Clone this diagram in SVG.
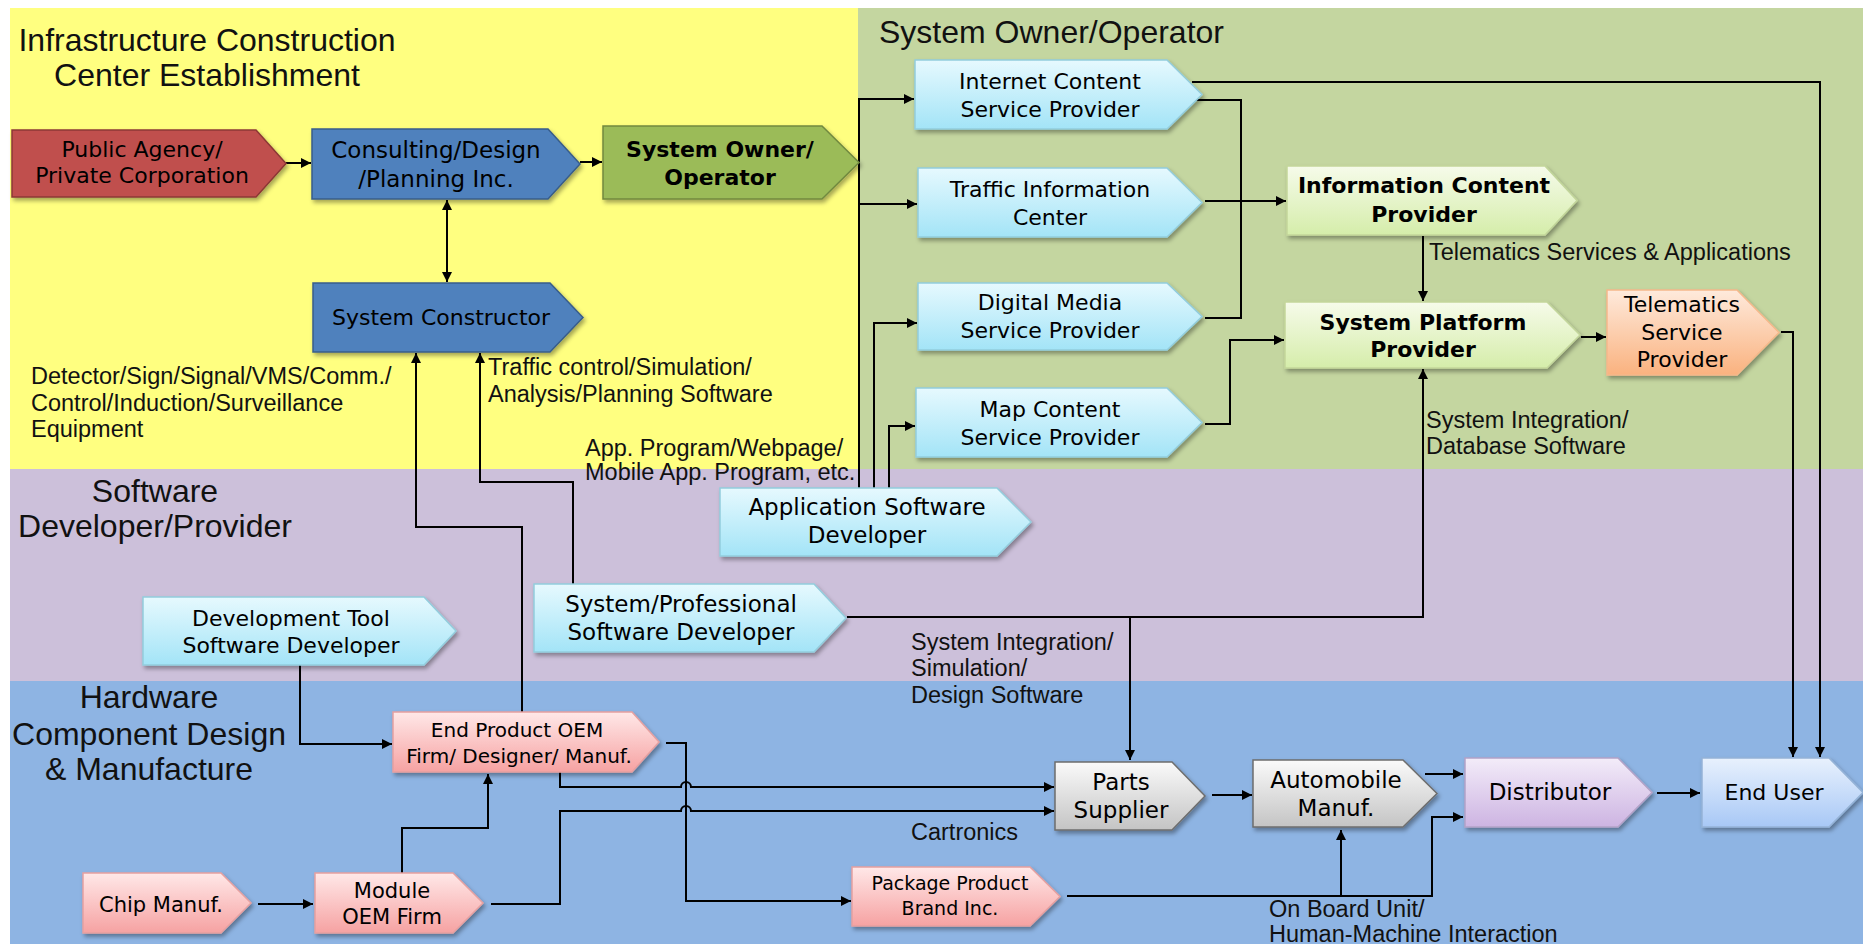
<svg xmlns="http://www.w3.org/2000/svg" width="1863" height="944" viewBox="0 0 1863 944">
<defs>
<style>
.nt{font-family:"DejaVu Sans",sans-serif;font-size:22px;text-anchor:middle;fill:#000}
.b{font-weight:bold}
.lbl{font-family:"Liberation Sans",Arial,sans-serif;font-size:23.5px;fill:#111}
.ttl{font-family:"Liberation Sans",Arial,sans-serif;font-size:32px;fill:#111}
.c path{fill:none;stroke:#000;stroke-width:2}
.sh{filter:url(#sh)}
.red{fill:#C0504D;stroke:#8C3836;stroke-width:1.5}
.blue{fill:#4F81BD;stroke:#385D8A;stroke-width:1.5}
.grn{fill:#9BBB59;stroke:#71893F;stroke-width:1.5}
.cy{fill:url(#gCy);stroke:#93CDDD;stroke-width:1.5}
.lg{fill:url(#gLg);stroke:#C3D69B;stroke-width:1.5}
.or{fill:url(#gOr);stroke:#F5B88A;stroke-width:1.5}
.pk{fill:url(#gPk);stroke:#E6A0A0;stroke-width:1.5}
.gy{fill:url(#gGy);stroke:#6E6E6E;stroke-width:1.5}
.lv{fill:url(#gLv);stroke:#B3A2C7;stroke-width:1.5}
.lb{fill:url(#gLb);stroke:#95B3D7;stroke-width:1.5}
</style>
<filter id="sh" x="-10%" y="-15%" width="125%" height="145%"><feDropShadow dx="2" dy="3" stdDeviation="2" flood-color="#000" flood-opacity="0.35"/></filter>
<linearGradient id="gCy" x1="0" y1="0" x2="0" y2="1"><stop offset="0" stop-color="#E6F9FE"/><stop offset="1" stop-color="#A3E4F7"/></linearGradient>
<linearGradient id="gLg" x1="0" y1="0" x2="0" y2="1"><stop offset="0" stop-color="#F6FBEA"/><stop offset="1" stop-color="#D5EDAA"/></linearGradient>
<linearGradient id="gOr" x1="0" y1="0" x2="0" y2="1"><stop offset="0" stop-color="#FEEADC"/><stop offset="1" stop-color="#FAB27F"/></linearGradient>
<linearGradient id="gPk" x1="0" y1="0" x2="0" y2="1"><stop offset="0" stop-color="#FFE8E8"/><stop offset="1" stop-color="#F6A2A2"/></linearGradient>
<linearGradient id="gGy" x1="0" y1="0" x2="0" y2="1"><stop offset="0" stop-color="#FAFAFA"/><stop offset="1" stop-color="#C4C4C4"/></linearGradient>
<linearGradient id="gLv" x1="0" y1="0" x2="0" y2="1"><stop offset="0" stop-color="#F3ECF9"/><stop offset="1" stop-color="#CDB4E2"/></linearGradient>
<linearGradient id="gLb" x1="0" y1="0" x2="0" y2="1"><stop offset="0" stop-color="#E8F1FD"/><stop offset="1" stop-color="#A8C8F6"/></linearGradient>
<marker id="ah" viewBox="0 0 10 10" refX="10" refY="5" markerWidth="11" markerHeight="10" markerUnits="userSpaceOnUse" orient="auto-start-reverse"><path d="M0,0 L10,5 L0,10 z" fill="#000"/></marker>
</defs>

<g id="background">
<rect x="0" y="0" width="1863" height="944" fill="#FFFFFF"/>
<rect x="10" y="8" width="848" height="461" fill="#FFFF80"/>
<rect x="858" y="8" width="1005" height="461" fill="#C4D6A0"/>
<rect x="10" y="469" width="1853" height="212" fill="#CCC0DA"/>
<rect x="10" y="681" width="1853" height="263" fill="#8EB4E3"/>
</g>

<g id="titles">
<text class="ttl" x="207" y="51" text-anchor="middle">Infrastructure Construction</text>
<text class="ttl" x="207" y="86" text-anchor="middle">Center Establishment</text>
<text class="ttl" x="879" y="43">System Owner/Operator</text>
<text class="ttl" x="155" y="502" text-anchor="middle">Software</text>
<text class="ttl" x="155" y="537" text-anchor="middle">Developer/Provider</text>
<text class="ttl" x="149" y="708" text-anchor="middle">Hardware</text>
<text class="ttl" x="149" y="745" text-anchor="middle">Component Design</text>
<text class="ttl" x="149" y="780" text-anchor="middle">&amp; Manufacture</text>
</g>

<g id="connectors" class="c">
<path d="M286,163 H311" marker-end="url(#ah)"/>
<path d="M580,162 H602" marker-end="url(#ah)"/>
<path d="M447,200 V282" marker-start="url(#ah)" marker-end="url(#ah)"/>
<path d="M859,488 V99 H914" marker-end="url(#ah)"/>
<path d="M859,204 H917" marker-end="url(#ah)"/>
<path d="M874,488 V323 H917" marker-end="url(#ah)"/>
<path d="M889,488 V426 H915" marker-end="url(#ah)"/>
<path d="M1192,82 H1820 V757" marker-end="url(#ah)"/>
<path d="M1195,100 H1241 V318 H1205"/>
<path d="M1205,201 H1286" marker-end="url(#ah)"/>
<path d="M1205,424 H1230 V340 H1284" marker-end="url(#ah)"/>
<path d="M1423,236 V301" marker-end="url(#ah)"/>
<path d="M1581,337 H1606" marker-end="url(#ah)"/>
<path d="M1781,332 H1793 V757" marker-end="url(#ah)"/>
<path d="M847,617 H1423 V369" marker-end="url(#ah)"/>
<path d="M1130,617 V760" marker-end="url(#ah)"/>
<path d="M573,584 V482 H480 V353" marker-end="url(#ah)"/>
<path d="M522,712 V527 H416 V353" marker-end="url(#ah)"/>
<path d="M300,665 V744 H392" marker-end="url(#ah)"/>
<path d="M666,743 H686 V901 H851" marker-end="url(#ah)"/>
<path d="M560,772 V787 H681 A5,5 0 0 1 691,787 H1054" marker-end="url(#ah)"/>
<path d="M491,904 H560 V811 H681 A5,5 0 0 1 691,811 H1054" marker-end="url(#ah)"/>
<path d="M402,873 V828 H488 V774" marker-end="url(#ah)"/>
<path d="M258,904 H313" marker-end="url(#ah)"/>
<path d="M1212,795 H1252" marker-end="url(#ah)"/>
<path d="M1425,774 H1463" marker-end="url(#ah)"/>
<path d="M1067,896 H1432 V817 H1463" marker-end="url(#ah)"/>
<path d="M1341,896 V830" marker-end="url(#ah)"/>
<path d="M1657,793 H1700" marker-end="url(#ah)"/>
</g>

<g id="labels">
<text class="lbl" x="31" y="384">Detector/Sign/Signal/VMS/Comm./</text>
<text class="lbl" x="31" y="411">Control/Induction/Surveillance</text>
<text class="lbl" x="31" y="437">Equipment</text>
<text class="lbl" x="488" y="375">Traffic control/Simulation/</text>
<text class="lbl" x="488" y="402">Analysis/Planning Software</text>
<text class="lbl" x="585" y="456">App. Program/Webpage/</text>
<text class="lbl" x="585" y="480">Mobile App. Program, etc.</text>
<text class="lbl" x="1429" y="260">Telematics Services &amp; Applications</text>
<text class="lbl" x="1426" y="428">System Integration/</text>
<text class="lbl" x="1426" y="454">Database Software</text>
<text class="lbl" x="911" y="650">System Integration/</text>
<text class="lbl" x="911" y="676">Simulation/</text>
<text class="lbl" x="911" y="703">Design Software</text>
<text class="lbl" x="911" y="840">Cartronics</text>
<text class="lbl" x="1269" y="917">On Board Unit/</text>
<text class="lbl" x="1269" y="942">Human-Machine Interaction</text>
</g>

<g id="n-public"><path class="red sh" d="M12,130 H256 L286,163.5 L256,197 H12 Z"/>
<text class="nt" x="142" y="157">Public Agency/</text><text class="nt" x="142" y="183">Private Corporation</text></g>

<g id="n-consulting"><path class="blue sh" d="M312,129 H548 L580,164 L548,199 H312 Z"/>
<text class="nt" x="436" y="158" style="font-size:23px">Consulting/Design</text><text class="nt" x="436" y="187" style="font-size:23px">/Planning Inc.</text></g>

<g id="n-owner"><path class="grn sh" d="M603,126 H822 L859,162.5 L822,199 H603 Z"/>
<text class="nt b" x="720" y="157">System Owner/</text><text class="nt b" x="720" y="185">Operator</text></g>

<g id="n-constructor"><path class="blue sh" d="M313,283 H550 L583,317.5 L550,352 H313 Z"/>
<text class="nt" x="441" y="325">System Constructor</text></g>

<g id="n-icsp"><path class="cy sh" d="M915,60 H1167 L1202,94.5 L1167,129 H915 Z"/>
<text class="nt" x="1050" y="89">Internet Content</text><text class="nt" x="1050" y="117">Service Provider</text></g>

<g id="n-traffic"><path class="cy sh" d="M918,168 H1167 L1202,202.5 L1167,237 H918 Z"/>
<text class="nt" x="1050" y="197">Traffic Information</text><text class="nt" x="1050" y="225">Center</text></g>

<g id="n-digital"><path class="cy sh" d="M918,283 H1167 L1202,316.5 L1167,350 H918 Z"/>
<text class="nt" x="1050" y="310">Digital Media</text><text class="nt" x="1050" y="338">Service Provider</text></g>

<g id="n-map"><path class="cy sh" d="M916,388 H1167 L1202,422.5 L1167,457 H916 Z"/>
<text class="nt" x="1050" y="417">Map Content</text><text class="nt" x="1050" y="445">Service Provider</text></g>

<g id="n-info"><path class="lg sh" d="M1287,166 H1545 L1577,200.5 L1545,235 H1287 Z"/>
<text class="nt b" x="1424" y="193">Information Content</text><text class="nt b" x="1424" y="222">Provider</text></g>

<g id="n-platform"><path class="lg sh" d="M1285,302 H1547 L1580,335 L1547,368 H1285 Z"/>
<text class="nt b" x="1423" y="330">System Platform</text><text class="nt b" x="1423" y="357">Provider</text></g>

<g id="n-telematics"><path class="or sh" d="M1607,290 H1737 L1779,332.5 L1737,375 H1607 Z"/>
<text class="nt" x="1682" y="312">Telematics</text><text class="nt" x="1682" y="340">Service</text><text class="nt" x="1682" y="367">Provider</text></g>

<g id="n-appsw"><path class="cy sh" d="M720,488 H997 L1031,522 L997,556 H720 Z"/>
<text class="nt" x="867" y="515" style="font-size:23px">Application Software</text><text class="nt" x="867" y="543" style="font-size:23px">Developer</text></g>

<g id="n-sysprof"><path class="cy sh" d="M534,584 H814 L846,618 L814,652 H534 Z"/>
<text class="nt" x="681" y="612" style="font-size:23px">System/Professional</text><text class="nt" x="681" y="640" style="font-size:23px">Software Developer</text></g>

<g id="n-devtool"><path class="cy sh" d="M143,597 H424 L456,631 L424,665 H143 Z"/>
<text class="nt" x="291" y="626">Development Tool</text><text class="nt" x="291" y="653">Software Developer</text></g>

<g id="n-endprod"><path class="pk sh" d="M393,712 H632 L659,742 L632,772 H393 Z"/>
<text class="nt" x="517" y="737" style="font-size:20px">End Product OEM</text><text class="nt" x="519" y="763" style="font-size:20px">Firm/ Designer/ Manuf.</text></g>

<g id="n-chip"><path class="pk sh" d="M83,873 H221 L251,903 L221,933 H83 Z"/>
<text class="nt" x="161" y="912" style="font-size:21px">Chip Manuf.</text></g>

<g id="n-module"><path class="pk sh" d="M315,873 H453 L483,903 L453,933 H315 Z"/>
<text class="nt" x="392" y="898" style="font-size:21px">Module</text><text class="nt" x="392" y="924" style="font-size:21px">OEM Firm</text></g>

<g id="n-package"><path class="pk sh" d="M852,867 H1030 L1060,896.5 L1030,926 H852 Z"/>
<text class="nt" x="950" y="890" style="font-size:19px">Package Product</text><text class="nt" x="950" y="915" style="font-size:19px">Brand Inc.</text></g>

<g id="n-parts"><path class="gy sh" d="M1055,762 H1172 L1205,796 L1172,830 H1055 Z"/>
<text class="nt" x="1121" y="790" style="font-size:23px">Parts</text><text class="nt" x="1121" y="818" style="font-size:23px">Supplier</text></g>

<g id="n-auto"><path class="gy sh" d="M1253,760 H1403 L1437,793.5 L1403,827 H1253 Z"/>
<text class="nt" x="1336" y="788" style="font-size:23px">Automobile</text><text class="nt" x="1336" y="816" style="font-size:23px">Manuf.</text></g>

<g id="n-distributor"><path class="lv sh" d="M1465,758 H1618 L1652,792.5 L1618,827 H1465 Z"/>
<text class="nt" x="1550" y="800" style="font-size:23px">Distributor</text></g>

<g id="n-enduser"><path class="lb sh" d="M1702,758 H1829 L1863,792.5 L1829,827 H1702 Z"/>
<text class="nt" x="1774" y="800" style="font-size:22px">End User</text></g>
</svg>
